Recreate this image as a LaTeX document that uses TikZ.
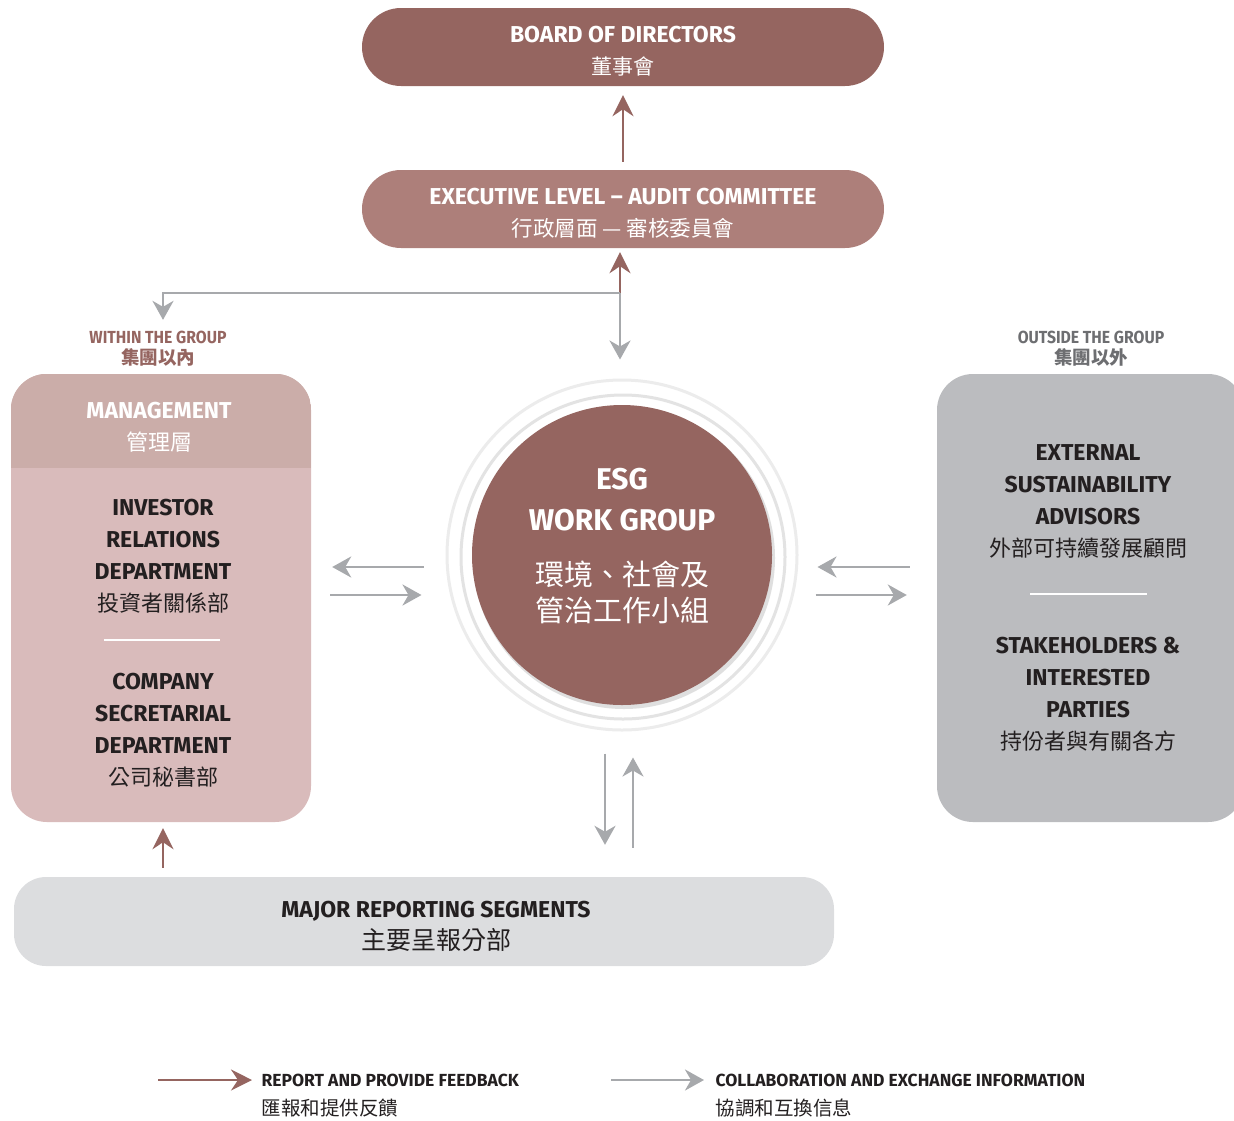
\documentclass[tikz,border=0pt]{standalone}
\usepackage{fontspec}
\setmainfont{Fira Sans}
\newfontfamily\narrowfont{Fira Sans}[FakeStretch=0.9]
\newfontfamily\cjk{Noto Sans CJK TC}
\usetikzlibrary{arrows.meta, positioning, calc}
\definecolor{board}{HTML}{956560}
\definecolor{exec}{HTML}{AD7F7A}
\definecolor{mghead}{HTML}{CBADA9}
\definecolor{mgbody}{HTML}{D9BBBB}
\definecolor{extgray}{HTML}{BBBCBF}
\definecolor{seggray}{HTML}{DCDDDF}
\definecolor{arrgray}{HTML}{A7A9AC}
\definecolor{ink}{HTML}{231F20}
\definecolor{lblgray}{HTML}{6D6E71}
\tikzset{
  report/.style={-{Stealth[length=21pt,width=21pt,inset=7pt]}, line width=2.8pt, draw=board},
  collab/.style={-{Stealth[length=19pt,width=21pt,inset=6pt]}, line width=2.8pt, draw=arrgray},
  pill/.style={rectangle, rounded corners=39pt, minimum width=522pt, minimum height=78pt, inner sep=0pt},
  panel/.style={rectangle, rounded corners=36pt, inner sep=0pt},
  title/.style={text=white, align=center, font=\fontsize{23}{32}\selectfont\bfseries},
  dept/.style={text=ink, align=center, font=\fontsize{23}{32}\selectfont\bfseries},
  grouplbl/.style={align=center, font=\fontsize{17.5}{21}\selectfont\narrowfont\bfseries},
  legend/.style={anchor=west, text=ink, align=left, font=\fontsize{17.5}{29}\selectfont\bfseries},
}
\newcommand{\zhtext}[2][22]{{\cjk\mdseries\fontsize{#1}{32}\selectfont #2}}

\begin{document}
\begin{tikzpicture}[x=1pt, y=-1pt]
    \useasboundingbox (0,0) rectangle (1234,1120);
    \clip (0,0) rectangle (1234,1120);
    % top of the chain
    \node[pill, fill=board] (board) at (623,47) {};
    \node[title] (boardtxt) at (623,51) {BOARD OF DIRECTORS\\\zhtext[21]{董事會}};
    \node[pill, fill=exec] (exec) at (623,209) {};
    \node[title] (exectxt) at (623,213) {EXECUTIVE LEVEL -- AUDIT COMMITTEE\\\zhtext[21.5]{行政層面 — 審核委員會}};
    \coordinate (j) at (620,293);

    % within the group
    \node[grouplbl, text=board] (inlbl) at (158,349) {WITHIN THE GROUP\\\cjk\fontsize{18.5}{21}\selectfont 集團以內};
    \node[panel, fill=mgbody, minimum width=300pt, minimum height=448pt] (mgmt) at (161,598) {};
    \begin{scope}
        \clip[rounded corners=36pt] (mgmt.north west) rectangle (mgmt.south east);
        \fill[mghead] (mgmt.north west) rectangle ($(mgmt.north east)+(0,94)$);
    \end{scope}
    \node[title] (mghdr) at (159,427) {MANAGEMENT\\\zhtext{管理層}};
    \node[dept] (ir) at (163,556) {INVESTOR\\RELATIONS\\DEPARTMENT\\\zhtext{投資者關係部}};
    \draw[white, line width=2pt] (104,640) -- (220,640);
    \node[dept] (cs) at (163,730) {COMPANY\\SECRETARIAL\\DEPARTMENT\\\zhtext{公司秘書部}};

    % esg work group
    \node[circle, minimum size=350pt, inner sep=0pt, fill=white, draw=gray!15, line width=3pt] (ring) at (622,555) {};
    \draw[gray!22, line width=3pt] ($(ring)+(1,2)$) circle (162pt);
    \fill[gray!25] ($(ring)+(2,3)$) circle (151pt);
    \node[circle, minimum size=300pt, inner sep=0pt, fill=board] (esg) at (ring) {};
    \node[text=white, align=center, font=\fontsize{30}{41}\selectfont\bfseries] (esgen) at (622,500) {ESG\\WORK GROUP};
    \node[text=white, align=center, font=\fontsize{29}{36}\selectfont\cjk] (esgzh) at (622,592) {環境、社會及\\管治工作小組};

    % outside the group
    \node[grouplbl, text=lblgray] (outlbl) at (1091,349) {OUTSIDE THE GROUP\\\cjk\fontsize{18.5}{21}\selectfont 集團以外};
    \node[panel, fill=extgray, minimum width=307pt, minimum height=448pt] (ext) at (1090.5,598) {};
    \node[dept] (esa) at (1088,501) {EXTERNAL\\SUSTAINABILITY\\ADVISORS\\\zhtext{外部可持續發展顧問}};
    \draw[white, line width=2pt] (1030,594) -- (1147,594);
    \node[dept] (sip) at (1088,694) {STAKEHOLDERS \&\\INTERESTED\\PARTIES\\\zhtext{持份者與有關各方}};

    % reporting segments
    \node[panel, fill=seggray, rounded corners=32pt, minimum width=820pt, minimum height=89pt] (seg) at (424,921.5) {};
    \node[dept] (segtxt) at (436,926) {MAJOR REPORTING SEGMENTS\\\zhtext[25]{主要呈報分部}};

    % connectors
    \coordinate (lu) at (0,567);
    \coordinate (ll) at (0,595);
    \coordinate (vd) at (605,0);
    \coordinate (vu) at (633,0);
    \coordinate (ra) at (163,0);
    \draw[report, shorten <=8pt, shorten >=9pt] (exec.north) -- (board.south);
    \draw[report, shorten >=4pt] (j) -- (exec.south -| j);
    \draw[collab, shorten >=19pt] (j) -- (ring.north -| j);
    \draw[collab, shorten >=8pt] (j) -| ([xshift=5pt]inlbl.north);
    \draw[collab, shorten <=22pt, shorten >=21pt] (ring.west |- lu) -- (mgmt.east |- lu);
    \draw[collab, shorten <=19pt, shorten >=24pt] (mgmt.east |- ll) -- (ring.west |- ll);
    \draw[collab, shorten <=27pt, shorten >=19pt] (ext.west |- lu) -- (ring.east |- lu);
    \draw[collab, shorten <=17pt, shorten >=30pt] (ring.east |- ll) -- (ext.west |- ll);
    \draw[collab, shorten <=22pt, shorten >=32pt] (vd |- ring.south) -- (vd |- seg.north);
    \draw[collab, shorten <=29pt, shorten >=26pt] (vu |- seg.north) -- (vu |- ring.south);
    \draw[report, shorten <=9pt, shorten >=6pt] (ra |- seg.north) -- (ra |- mgmt.south);

    % legend
    \node[legend] (lgrep) at (258,1096) {REPORT AND PROVIDE FEEDBACK\\\zhtext[19.5]{匯報和提供反饋}};
    \node[legend] (lgcol) at (712,1096) {COLLABORATION AND EXCHANGE INFORMATION\\\zhtext[19.5]{協調和互換信息}};
    \coordinate (lr) at (158,1080);
    \coordinate (lc) at (611,1080);
    \draw[report] (lr) -- ([xshift=-6pt]lr -| lgrep.west);
    \draw[collab] (lc) -- ([xshift=-8pt]lc -| lgcol.west);
\end{tikzpicture}
\end{document}
